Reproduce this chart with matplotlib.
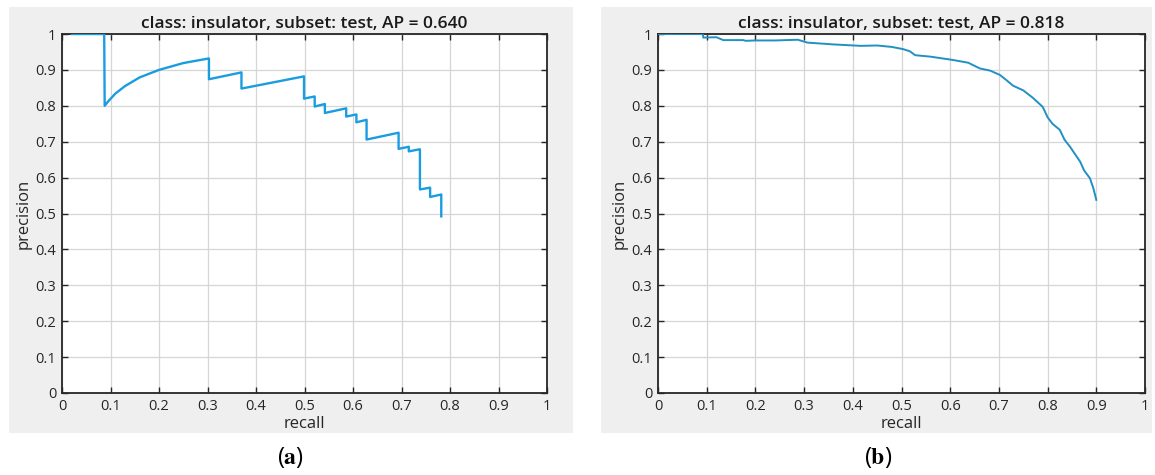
import matplotlib
matplotlib.use("Agg")
import matplotlib.pyplot as plt
from matplotlib.patches import Rectangle

plt.rcParams['font.family'] = ['Open Sans', 'DejaVu Sans']
plt.rcParams['mathtext.fontset'] = 'stix'

# - DATA - #
# panel (a): precision/recall, AP = 0.640
rec_a = [0.021, 0.087, 0.088, 0.095, 0.11, 0.13, 0.16, 0.20, 0.25, 0.303,
         0.303, 0.370, 0.370, 0.499, 0.499, 0.521, 0.521, 0.542, 0.542, 0.586,
         0.586, 0.607, 0.607, 0.628, 0.628, 0.694, 0.694, 0.715, 0.715, 0.738,
         0.738, 0.759, 0.759, 0.782, 0.782]
prec_a = [1.0, 1.0, 0.800, 0.812, 0.834, 0.855, 0.879, 0.900, 0.919, 0.932,
          0.874, 0.893, 0.848, 0.882, 0.820, 0.826, 0.798, 0.805, 0.780, 0.793,
          0.770, 0.776, 0.754, 0.761, 0.706, 0.725, 0.680, 0.686, 0.673, 0.679,
          0.567, 0.572, 0.546, 0.553, 0.492]

# panel (b): precision/recall, AP = 0.818
rec_b = [0, 0.092, 0.093, 0.12, 0.134, 0.175, 0.18, 0.20, 0.24, 0.287,
         0.307, 0.36, 0.416, 0.45, 0.48, 0.503, 0.517, 0.528, 0.559, 0.604,
         0.637, 0.661, 0.682, 0.702, 0.715, 0.729, 0.75, 0.77, 0.79, 0.80,
         0.81, 0.825, 0.835, 0.846, 0.855, 0.867, 0.875, 0.887, 0.894, 0.90]
prec_b = [1.0, 1.0, 0.990, 0.991, 0.983, 0.983, 0.981, 0.982, 0.982, 0.984,
          0.976, 0.971, 0.967, 0.968, 0.964, 0.958, 0.952, 0.941, 0.937, 0.928,
          0.920, 0.904, 0.898, 0.886, 0.872, 0.856, 0.843, 0.822, 0.797, 0.768,
          0.750, 0.733, 0.705, 0.686, 0.668, 0.644, 0.620, 0.598, 0.570, 0.538]

ticks = [0, 0.1, 0.2, 0.3, 0.4, 0.5, 0.6, 0.7, 0.8, 0.9, 1]
tick_labels = ['0', '0.1', '0.2', '0.3', '0.4', '0.5', '0.6', '0.7', '0.8', '0.9', '1']

panels = [
    (rec_a, prec_a, 'class: insulator, subset: test, AP = 0.640', 'a', '#1a9de0'),
    (rec_b, prec_b, 'class: insulator, subset: test, AP = 0.818', 'b', '#2190c4'),
]

W, H = 1155, 475
fig = plt.figure(figsize=(W / 100, H / 100), dpi=100)

# pixel boxes: gray frame, axes
frames = [(9, 7, 573, 433), (601, 7, 1152, 433)]
axboxes = [(62, 34, 547, 393), (658, 34, 1145, 393)]
captions_x = [290, 878]

for (rec, prec, title, tag, col), fr, ab, cx in zip(panels, frames, axboxes, captions_x):
    x0, y0, x1, y1 = fr
    fig.patches.append(Rectangle((x0 / W, 1 - y1 / H), (x1 - x0) / W, (y1 - y0) / H,
                                 transform=fig.transFigure, facecolor='#efefef',
                                 edgecolor='none', zorder=-5))
    a0, b0, a1, b1 = ab
    ax = fig.add_axes([a0 / W, 1 - b1 / H, (a1 - a0) / W, (b1 - b0) / H])
    ax.set_facecolor('white')
    ax.plot(rec, prec, color=col, lw=1.7 if tag == 'a' else 1.4, zorder=3)
    ax.set_xlim(0, 1)
    ax.set_ylim(0, 1)
    ax.set_xticks(ticks)
    ax.set_xticklabels(tick_labels, fontweight='medium')
    ax.set_yticks(ticks)
    ax.set_yticklabels(tick_labels, fontweight='medium')
    ax.grid(True, color='#d6d6d6', lw=0.9)
    ax.set_axisbelow(True)
    ax.tick_params(direction='in', length=4, width=1, top=True, right=True,
                   colors='#262626', labelsize=10.5, pad=4)
    for s in ax.spines.values():
        s.set_color('#262626')
        s.set_linewidth(1.3)
    ax.set_title(title, fontsize=12.5, fontweight='semibold', color='#1a1a1a', pad=4)
    ax.set_xlabel('recall', fontsize=12, fontweight='medium', color='#262626', labelpad=2)
    ax.set_ylabel('precision', fontsize=12, fontweight='medium', color='#262626', labelpad=3)
    fig.text(cx / W, 1 - 458 / H, r'($\mathbf{' + tag + r'}$)', ha='center', va='center',
             fontsize=17)

fig.savefig('out.png', dpi=100)
